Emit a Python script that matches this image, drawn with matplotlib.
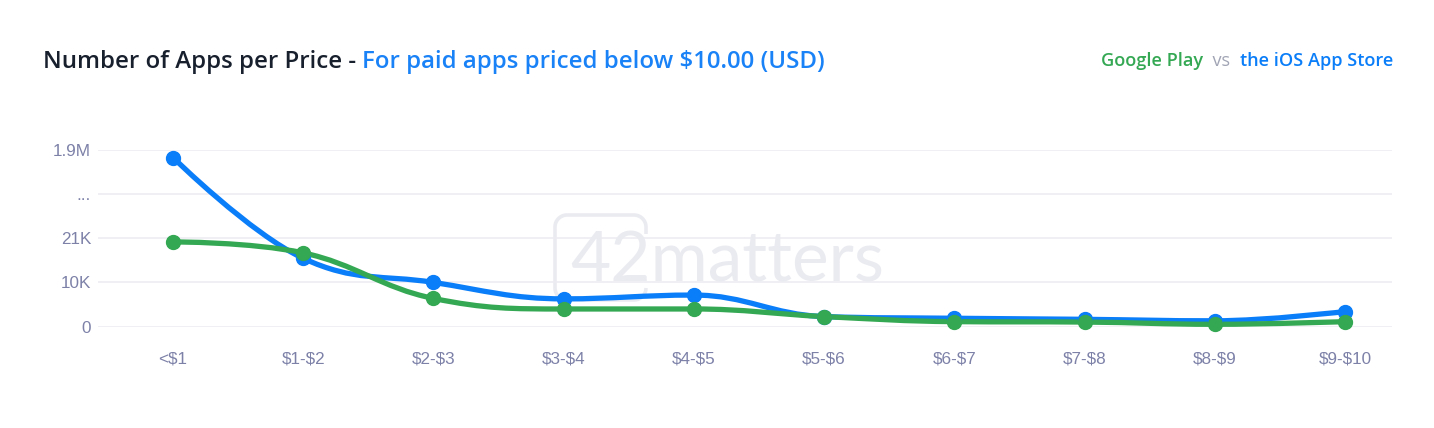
import numpy as np
import matplotlib
matplotlib.use("Agg")
import matplotlib.pyplot as plt
from matplotlib.path import Path
from matplotlib.patches import PathPatch

plt.rcParams["text.parse_math"] = False

# data
categories = ["<$1", "$1-$2", "$2-$3", "$3-$4", "$4-$5", "$5-$6", "$6-$7", "$7-$8", "$8-$9", "$9-$10"]
ios_apps = [1730000, 16200, 10500, 6600, 7500, 2400, 2000, 1750, 1400, 3600]
google_apps = [20100, 17500, 6700, 4200, 4200, 2400, 1200, 1100, 570, 1200]
ytick_labels = ["0", "10K", "21K", "...", "1.9M"]

BLUE = "#0a7df8"
GREEN = "#34a853"
TICK = "#7d81a8"
GRID = "#ececf2"
WM = "#eaebf1"


def to_axis(v):
    # broken axis: 0..21K linear on the lower half, 21K..1.9M on the upper half
    v = np.asarray(v, dtype=float)
    low = v / 10500.0
    high = 2 + (v - 21000) / (1900000 - 21000) * 2
    return np.where(v <= 21000, low, high)


def spline_path(xs, ys, smoothing=1.5):
    # highcharts-like spline with control points
    n = len(xs)
    denom = smoothing + 1
    left = [(xs[i], ys[i]) for i in range(n)]
    right = [(xs[i], ys[i]) for i in range(n)]
    for i in range(1, n - 1):
        px, py = xs[i], ys[i]
        lx, ly = xs[i - 1], ys[i - 1]
        nx, ny = xs[i + 1], ys[i + 1]
        lcx = (smoothing * px + lx) / denom
        lcy = (smoothing * py + ly) / denom
        rcx = (smoothing * px + nx) / denom
        rcy = (smoothing * py + ny) / denom
        if rcx != lcx:
            corr = ((rcy - lcy) * (rcx - px)) / (rcx - lcx) + py - rcy
            lcy += corr
            rcy += corr
        if lcy > ly and lcy > py:
            lcy = max(ly, py)
            rcy = 2 * py - lcy
        elif lcy < ly and lcy < py:
            lcy = min(ly, py)
            rcy = 2 * py - lcy
        if rcy > ny and rcy > py:
            rcy = max(ny, py)
            lcy = 2 * py - rcy
        elif rcy < ny and rcy < py:
            rcy = min(ny, py)
            lcy = 2 * py - rcy
        left[i] = (lcx, lcy)
        right[i] = (rcx, rcy)
    verts = [(xs[0], ys[0])]
    codes = [Path.MOVETO]
    for i in range(1, n):
        verts += [right[i - 1], left[i], (xs[i], ys[i])]
        codes += [Path.CURVE4] * 3
    return Path(verts, codes)


fig = plt.figure(figsize=(14.34, 4.28), dpi=100)

# watermark, drawn behind a transparent axes
fig.text(727 / 1434, 1 - 262 / 428, "42matters", fontsize=50, color=WM,
         family="Lato", fontweight="normal", ha="center", va="center", zorder=0)
r = 12
x0, x1, y0, y1 = 555, 646, 215, 300
pts = [(x1, 234), (x1, y0 + r)]
t = np.linspace(0, np.pi / 2, 12)
pts += [(x1 - r + r * np.cos(a), y0 + r - r * np.sin(a)) for a in t]
pts += [(x0 + r - r * np.cos(a), y0 + r - r * np.sin(a)) for a in t[::-1]]
pts += [(x0 + r - r * np.cos(a), y1 - r + r * np.sin(a)) for a in t]
pts += [(x1 - r + r * np.cos(a), y1 - r + r * np.sin(a)) for a in t[::-1]]
pts += [(x1, 288)]
pts = np.array(pts)
wm = Path(np.column_stack([pts[:, 0] / 1434, 1 - pts[:, 1] / 428]))
fig.add_artist(PathPatch(wm, fill=False, ec=WM, lw=2.6, transform=fig.transFigure, zorder=0))

ax = fig.add_axes([98 / 1434, 101.3 / 428, 1294 / 1434, 177.2 / 428])
ax.set_facecolor("none")

x = np.arange(len(categories))
ax.set_xlim(-0.576, 9.361)
ax.set_ylim(0, 4)

for spine in ax.spines.values():
    spine.set_visible(False)
ax.set_yticks([0, 1, 2, 3, 4], ytick_labels)
ax.set_xticks(x, categories)
ax.tick_params(axis="both", length=0, colors=TICK, labelsize=12.3)
ax.tick_params(axis="y", pad=5)
ax.tick_params(axis="x", pad=18)
for lab in ax.get_xticklabels() + ax.get_yticklabels():
    lab.set_fontfamily("Liberation Sans")
ax.grid(axis="y", color=GRID, lw=1.2)
ax.set_axisbelow(True)

for vals, color in [(ios_apps, BLUE), (google_apps, GREEN)]:
    yv = to_axis(vals)
    ax.add_patch(PathPatch(spline_path(x, yv), fill=False, ec=color, lw=3.8,
                           capstyle="round", joinstyle="round", clip_on=False, zorder=3))
    ax.plot(x, yv, "o", color=color, ms=10, clip_on=False, zorder=4)

# title and legend built from pieces
fig.canvas.draw()
renderer = fig.canvas.get_renderer()


def put_pieces(pieces, x_px, y_px, size, align="left"):
    arts = []
    for txt, col, wt in pieces:
        arts.append(fig.text(0, 1 - y_px / 428, txt, color=col, fontsize=size,
                             family="Open Sans", fontweight=wt, va="center"))
    widths = [a.get_window_extent(renderer).width for a in arts]
    total = sum(widths)
    cur = x_px if align == "left" else x_px - total
    for a, w in zip(arts, widths):
        a.set_x(cur / 1434)
        cur += w


put_pieces([("Number of Apps per Price - ", "#18202e", "semibold"),
            ("For paid apps priced below $10.00 (USD)", "#1a82f7", "semibold")], 43, 62, 17.25)
put_pieces([("Google Play", GREEN, "semibold"), ("  vs  ", "#a0a4b4", "normal"),
            ("the iOS App Store", BLUE, "semibold")], 1393, 61, 13.1, align="right")

fig.savefig("out.png", dpi=100)
